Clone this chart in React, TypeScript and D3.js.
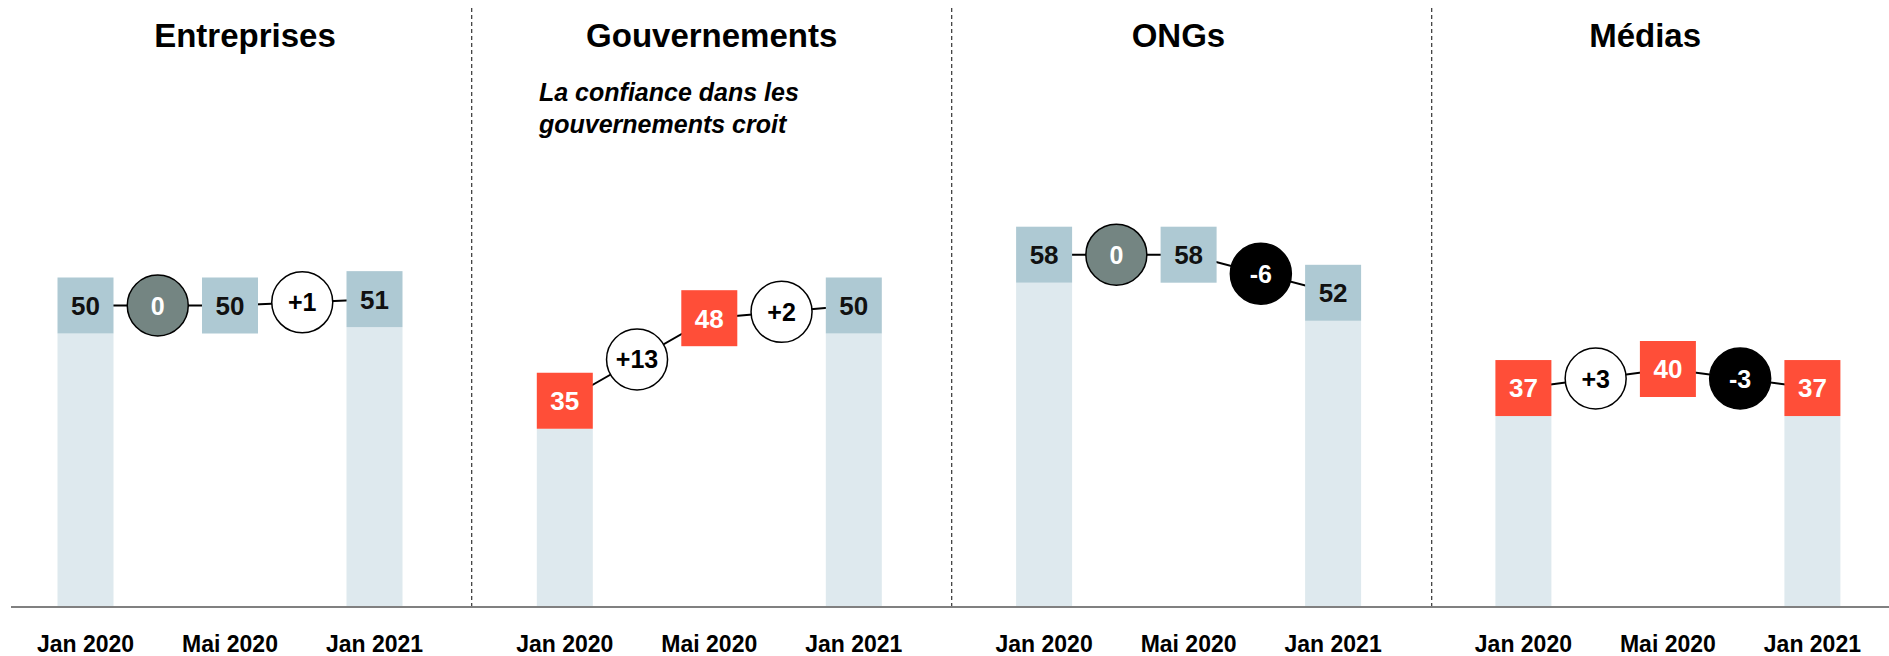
import React from "react";
import * as d3 from "d3";

const panels = ["Entreprises", "Gouvernements", "ONGs", "Médias"];
const periods = ["Jan 2020", "Mai 2020", "Jan 2021"];
const entreprises = [50, 50, 51];
const gouvernements = [35, 48, 50];
const ongs = [58, 58, 52];
const medias = [37, 40, 37];
const seriesByPanel = [entreprises, gouvernements, ongs, medias];
const annotationLines = ["La confiance dans les", "gouvernements croit"];
const barPeriods = ["Jan 2020", "Jan 2021"];

const W = 1889;
const H = 656;
const FONT = "'Liberation Sans', Arial, Helvetica, sans-serif";
const BOX = 56;
const R = 30.5;
const BASE_Y = 607;

const colors = {
  neutral: "#aec9d3",
  distrust: "#ff4e38",
  light: "#dee9ee",
  zero: "#748582",
};

export default function App() {
  const panelX = d3.scaleLinear().domain([0, 1]).range([230, 709.3]);
  const titleX = d3.scaleLinear().domain([0, 1]).range([245, 711.7]);
  const dividerX = d3.scaleLinear().domain([0, 1]).range([-8.3, 471.7]);
  const periodX = d3.scalePoint<string>().domain(periods).range([-144.5, 144.5]);
  const y = d3.scaleLinear().domain([0, 100]).range([623, -12]);

  const fmt = (d: number) => (d > 0 ? `+${d}` : `${d}`);

  return (
    <svg width={W} height={H} style={{ display: "block", position: "absolute", left: 0, top: 0 }} fontFamily={FONT}>
      <rect width={W} height={H} fill="#fff" />
      {[1, 2, 3].map((i) => (
        <line key={i} x1={dividerX(i)} x2={dividerX(i)} y1={8} y2={BASE_Y} stroke="#333" strokeWidth={1.2} strokeDasharray="4,3" />
      ))}
      {panels.map((name, pi) => {
        const vals = seriesByPanel[pi];
        const cx = (k: number) => panelX(pi) + (periodX(periods[k]) as number);
        const pts = vals.map((v, k) => ({ x: cx(k), y: y(v), v, k }));
        const changes = vals.slice(1).map((v, k) => ({
          d: v - vals[k],
          x: (pts[k].x + pts[k + 1].x) / 2,
          y: (pts[k].y + pts[k + 1].y) / 2,
        }));
        const line = d3.line<{ x: number; y: number }>().x((d) => d.x).y((d) => d.y);
        return (
          <g key={name}>
            <text x={titleX(pi)} y={47} textAnchor="middle" fontSize={33} fontWeight="bold" fill="#000">{name}</text>
            {pts.filter((p) => barPeriods.includes(periods[p.k])).map((p) => (
              <rect key={"b" + p.k} x={p.x - BOX / 2} y={p.y + BOX / 2} width={BOX} height={BASE_Y - (p.y + BOX / 2)} fill={colors.light} />
            ))}
            <path d={line(pts) || ""} fill="none" stroke="#000" strokeWidth={2} />
            {pts.map((p) => (
              <g key={"p" + p.k}>
                <rect x={p.x - BOX / 2} y={p.y - BOX / 2} width={BOX} height={BOX} fill={p.v < 50 ? colors.distrust : colors.neutral} />
                <text x={p.x} y={p.y} dy="0.36em" textAnchor="middle" fontSize={26} fontWeight="bold" fill={p.v < 50 ? "#fff" : "#111"}>{p.v}</text>
              </g>
            ))}
            {changes.map((c, k) => (
              <g key={"c" + k}>
                <circle cx={c.x} cy={c.y} r={R} fill={c.d === 0 ? colors.zero : c.d > 0 ? "#fff" : "#000"} stroke="#000" strokeWidth={1.5} />
                <text x={c.x} y={c.y} dy="0.36em" textAnchor="middle" fontSize={25} fontWeight="bold" fill={c.d > 0 ? "#000" : "#fff"}>{fmt(c.d)}</text>
              </g>
            ))}
            {periods.map((p, k) => (
              <text key={p} x={cx(k)} y={652} textAnchor="middle" fontSize={23} fontWeight="bold" fill="#000">{p}</text>
            ))}
          </g>
        );
      })}
      <text x={539} y={101} fontSize={25} fontWeight="bold" fontStyle="italic" fill="#000">
        {annotationLines.map((l, i) => (
          <tspan key={i} x={539} dy={i === 0 ? 0 : 32}>{l}</tspan>
        ))}
      </text>
      <line x1={11} x2={W} y1={BASE_Y} y2={BASE_Y} stroke="#808080" strokeWidth={2} />
    </svg>
  );
}
